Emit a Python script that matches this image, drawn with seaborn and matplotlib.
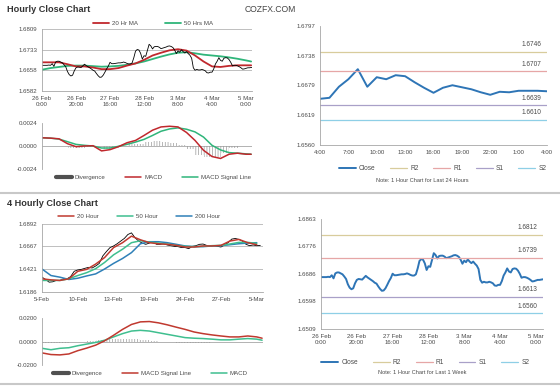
import numpy as np
import pandas as pd
import matplotlib
matplotlib.use('Agg')
import matplotlib.pyplot as plt
from matplotlib.lines import Line2D
import seaborn as sns

sns.set_style('white')
plt.rcParams['font.family'] = ['Liberation Sans', 'DejaVu Sans']
plt.rcParams['hatch.linewidth'] = 0.5

# ---------------- data: hourly (last week) ----------------
h_close = [1.6676, 1.6676, 1.6676, 1.6676, 1.6677, 1.6676, 1.6682, 1.6672, 1.6688, 1.6691,
           1.6691, 1.6688, 1.6685, 1.6678, 1.6670, 1.6653, 1.6642, 1.6637, 1.6640, 1.6656,
           1.6667, 1.6670, 1.6669, 1.6668, 1.6674, 1.6680, 1.6675, 1.6671, 1.6667, 1.6663,
           1.6658, 1.6655, 1.6646, 1.6638, 1.6632, 1.6633, 1.6640, 1.6651, 1.6663, 1.6673,
           1.6687, 1.6682, 1.6682, 1.6683, 1.6684, 1.6685, 1.6685, 1.6686, 1.6688, 1.6686,
           1.6683, 1.6681, 1.6681, 1.6685, 1.6704, 1.6728, 1.6734, 1.6732, 1.6720, 1.6699,
           1.6711, 1.6709, 1.6731, 1.6753, 1.6747, 1.6736, 1.6744, 1.6745, 1.6745, 1.6742,
           1.6737, 1.6739, 1.6741, 1.6743, 1.6746, 1.6747, 1.6745, 1.6741, 1.6732, 1.6719,
           1.6729, 1.6724, 1.6733, 1.6726, 1.6721, 1.6726, 1.6719, 1.6713, 1.6702, 1.6667,
           1.6658, 1.6661, 1.6659, 1.6659, 1.6661, 1.6659, 1.6656, 1.6649, 1.6648, 1.6651,
           1.6651, 1.6663, 1.6681, 1.6691, 1.6704, 1.6694, 1.6691, 1.6702, 1.6704, 1.6703,
           1.6697, 1.6687, 1.6674, 1.6676, 1.6676, 1.6674, 1.6671, 1.6667, 1.6662, 1.6663,
           1.6665, 1.6667, 1.6667, 1.6668, 1.6669]
h_ma_pos = [0, 5, 10, 15, 20, 25, 30, 35, 40, 45, 50, 55, 60, 65, 70, 75, 80, 85, 90, 95,
            100, 105, 110, 115, 120, 123]
h_ma20 = [1.6687, 1.6687, 1.6687, 1.6680, 1.6672, 1.6672, 1.6668, 1.6662, 1.6662, 1.6666,
          1.6675, 1.6683, 1.6696, 1.6712, 1.6722, 1.6731, 1.6735, 1.6730, 1.6712, 1.6690,
          1.6672, 1.6670, 1.6674, 1.6676, 1.6676, 1.6676]
h_ma50 = [1.6660, 1.6666, 1.6670, 1.6674, 1.6675, 1.6675, 1.6673, 1.6671, 1.6672, 1.6674,
          1.6678, 1.6683, 1.6690, 1.6699, 1.6708, 1.6716, 1.6722, 1.6724, 1.6720, 1.6715,
          1.6712, 1.6709, 1.6705, 1.6700, 1.6694, 1.6690]
h_macd = [0.00086, 0.00082, 0.00075, 0.00024, -0.00007, 0.00000, 0.00003, -0.00051, -0.00038,
          -0.00007, 0.00034, 0.00058, 0.00110, 0.00165, 0.00199, 0.00206, 0.00199, 0.00141,
          0.00058, -0.00045, -0.00110, -0.00130, -0.00086, -0.00075, -0.00086, -0.00086]
h_signal = [0.00086, 0.00082, 0.00072, 0.00045, 0.00017, 0.00007, 0.00000, -0.00021, -0.00021,
            -0.00003, 0.00017, 0.00041, 0.00069, 0.00110, 0.00154, 0.00178, 0.00189, 0.00175,
            0.00147, 0.00093, 0.00007, -0.00041, -0.00069, -0.00075, -0.00082, -0.00086]
h_div = [0.0, 0.0, 0.00003, -0.00020, -0.00024, -0.00007, 0.0, -0.00030, -0.00017, -0.00004,
         0.00017, 0.00017, 0.00040, 0.00055, 0.00045, 0.00028, 0.00010, -0.00034, -0.00089,
         -0.00110, -0.00117, -0.00070, -0.00017, 0.0, -0.00004]
h_labels = ['26 Feb\n0:00', '26 Feb\n20:00', '27 Feb\n16:00', '28 Feb\n12:00',
            '3 Mar\n8:00', '4 Mar\n4:00', '5 Mar\n0:00']
h_yticks_tl = ['1.6582', '1.6658', '1.6733', '1.6809']
h_yticks_br = ['1.6509', '1.6598', '1.6686', '1.6776', '1.6863']
week_levels = [1.6812, 1.6739, 1.6613, 1.6560]   # R2, R1, S1, S2

# ---------------- data: last 24 hours ----------------
d_labels = ['4:00', '7:00', '10:00', '13:00', '16:00', '19:00', '22:00', '1:00', '4:00']
d_close = [1.6652, 1.6654, 1.6676, 1.6691, 1.6711, 1.6676, 1.6695, 1.6691, 1.6699, 1.6697,
           1.6685, 1.6674, 1.6664, 1.6674, 1.6679, 1.6675, 1.6671, 1.6665, 1.6660, 1.6666,
           1.6665, 1.6668, 1.6668, 1.6668, 1.6667]
d_yticks = ['1.6560', '1.6619', '1.6679', '1.6738', '1.6797']
day_levels = [1.6746, 1.6707, 1.6639, 1.6610]    # R2, R1, S1, S2
level_names = ['R2', 'R1', 'S1', 'S2']

# ---------------- data: 4 hourly ----------------
f_close = [1.6340, 1.6316, 1.6288, 1.6292, 1.6306, 1.6306, 1.6323, 1.6323, 1.6346, 1.6401,
           1.6415, 1.6421, 1.6432, 1.6442, 1.6435, 1.6456, 1.6483, 1.6561, 1.6606, 1.6647,
           1.6664, 1.6687, 1.6715, 1.6742, 1.6783, 1.6800, 1.6749, 1.6715, 1.6694, 1.6681,
           1.6694, 1.6708, 1.6681, 1.6681, 1.6687, 1.6674, 1.6667, 1.6660, 1.6657, 1.6647,
           1.6647, 1.6636, 1.6660, 1.6667, 1.6681, 1.6684, 1.6670, 1.6664, 1.6667, 1.6660,
           1.6653, 1.6674, 1.6698, 1.6735, 1.6742, 1.6732, 1.6715, 1.6681, 1.6667, 1.6674,
           1.6667, 1.6670]
f_close_pos = list(range(0, 124, 2))
f_ma_pos = [0, 5, 10, 15, 20, 25, 30, 35, 40, 45, 50, 55, 60, 65, 70, 75, 80, 85, 90, 95,
            100, 105, 110, 115, 120]
f_ma20 = [1.6323, 1.6312, 1.6306, 1.6323, 1.6401, 1.6421, 1.6476, 1.6544, 1.6647, 1.6698,
          1.6766, 1.6728, 1.6698, 1.6687, 1.6681, 1.6670, 1.6653, 1.6653, 1.6664, 1.6664,
          1.6670, 1.6715, 1.6732, 1.6698, 1.6677]
f_ma50 = [1.6306, 1.6306, 1.6306, 1.6323, 1.6357, 1.6387, 1.6428, 1.6493, 1.6572, 1.6630,
          1.6698, 1.6718, 1.6704, 1.6694, 1.6684, 1.6670, 1.6660, 1.6657, 1.6660, 1.6667,
          1.6670, 1.6684, 1.6701, 1.6701, 1.6691]
f_ma200 = [1.6425, 1.6357, 1.6340, 1.6316, 1.6329, 1.6353, 1.6374, 1.6425, 1.6483, 1.6534,
           1.6595, 1.6687, 1.6708, 1.6708, 1.6698, 1.6681, 1.6664, 1.6657, 1.6657, 1.6664,
           1.6667, 1.6677, 1.6687, 1.6694, 1.6698]
f_macd_pos = f_ma_pos + [123]
f_signal = [-0.0097, -0.0111, -0.0114, -0.0106, -0.0078, -0.0056, -0.0031, 0.0006, 0.0053,
            0.0103, 0.0145, 0.0167, 0.0170, 0.0159, 0.0142, 0.0122, 0.0103, 0.0081, 0.0067,
            0.0056, 0.0047, 0.0039, 0.0039, 0.0047, 0.0039, 0.0028]
f_macd = [-0.0058, -0.0070, -0.0058, -0.0053, -0.0036, -0.0022, -0.0008, 0.0011, 0.0039,
          0.0067, 0.0089, 0.0095, 0.0089, 0.0075, 0.0061, 0.0047, 0.0033, 0.0028, 0.0025,
          0.0020, 0.0014, 0.0014, 0.0020, 0.0025, 0.0020, 0.0011]
f_div = [-0.0010, -0.0012, -0.0010, -0.0008, -0.0003, 0.0003, 0.0010, 0.0020, 0.0025, 0.0025,
         0.0020, 0.0015, 0.0005, -0.0003, -0.0008, -0.0010, -0.0012, -0.0012, -0.0010,
         -0.0008, -0.0006, -0.0005, -0.0004, -0.0004, -0.0003]
f_labels = ['5-Feb', '10-Feb', '13-Feb', '19-Feb', '24-Feb', '27-Feb', '5-Mar']
f_yticks = ['1.6186', '1.6421', '1.6667', '1.6892']

# ---------------- styling ----------------
W, H = 560, 386
TXT = '#4a4a4a'
AXC = '#a6a6a6'
FS = 4.4
RED = '#c0282d'
GRN = '#2fb57a'
BLUE = '#2e75b6'
LV_COLORS = ['#d8cc9c', '#e6a6a6', '#a9a0c8', '#8ecfe6']

fig = plt.figure(figsize=(5.6, 3.86), dpi=100, facecolor='white')


def box(x0, y0, x1, y1):
    return [x0 / W, 1 - y1 / H, (x1 - x0) / W, (y1 - y0) / H]


def style(ax, grid=False):
    for s in ['top', 'right']:
        ax.spines[s].set_visible(False)
    for s in ['left', 'bottom']:
        ax.spines[s].set_color(AXC)
        ax.spines[s].set_linewidth(0.6)
    ax.tick_params(axis='both', labelsize=FS, labelcolor=TXT, color=AXC,
                   length=2, width=0.5, pad=1.5)
    if grid:
        ax.yaxis.grid(True, color='#b4b4b4', lw=0.6)
        ax.set_axisbelow(True)
    ax.set_xlabel('')
    ax.set_ylabel('')


def float_ticks(labels):
    return [float(t) for t in labels]


# ---- Panel A: hourly close with MAs ----
axA = fig.add_axes(box(42, 29, 252, 91))
sns.lineplot(x=h_ma_pos, y=h_ma50, ax=axA, color=GRN, linewidth=1.3, label='50 Hrs MA')
sns.lineplot(x=h_ma_pos, y=h_ma20, ax=axA, color=RED, linewidth=1.3, label='20 Hr MA')
sns.lineplot(x=list(range(len(h_close))), y=h_close, ax=axA, color='black', linewidth=0.6)
axA.set_xlim(0, 123.5)
axA.set_ylim(1.6582, 1.6809)
axA.set_yticks(float_ticks(h_yticks_tl), h_yticks_tl)
axA.set_xticks(list(range(0, 121, 20)), h_labels)
style(axA, grid=True)
hA, lA = axA.get_legend_handles_labels()
axA.legend([hA[1], hA[0]], [lA[1], lA[0]], ncol=2, loc='lower center',
           bbox_to_anchor=(0.53, 1.0), frameon=False, fontsize=FS, handlelength=2.6,
           columnspacing=4.5, handletextpad=0.5, borderaxespad=0.1, labelcolor=TXT)

# ---- Panel B: hourly MACD ----
axB = fig.add_axes(box(42, 123, 252, 169))
axB.bar(h_ma_pos[:-1], h_div, width=5, color='none', edgecolor='#9a9a9a',
        hatch='||||||', linewidth=0, align='edge')
sns.lineplot(x=h_ma_pos, y=h_signal, ax=axB, color=GRN, linewidth=1.1)
sns.lineplot(x=h_ma_pos, y=h_macd, ax=axB, color=RED, linewidth=1.1)
axB.axhline(0, color=AXC, lw=0.6, zorder=0)
axB.set_xlim(0, 123.5)
axB.set_ylim(-0.0024, 0.0024)
axB.set_yticks([-0.0024, 0.0, 0.0024], ['-0.0024', '0.0000', '0.0024'])
axB.set_xticks([])
style(axB)
axB.spines['bottom'].set_visible(False)
axB.legend([Line2D([], [], color='#505050', lw=3), Line2D([], [], color=RED, lw=1.1),
            Line2D([], [], color=GRN, lw=1.1)],
           ['Divergence', 'MACD', 'MACD Signal Line'], ncol=3, loc='upper center',
           bbox_to_anchor=(0.53, -0.08), frameon=False, fontsize=FS, handlelength=2.6,
           columnspacing=3.2, handletextpad=0.5, borderaxespad=0, labelcolor=TXT)

# ---- Panel C: last 24 hours ----
axC = fig.add_axes(box(320, 26, 547, 145))
sns.lineplot(x=list(range(len(d_close))), y=d_close, ax=axC, color=BLUE, linewidth=1.4,
             label='Close')
for name, lv, col in zip(level_names, day_levels, LV_COLORS):
    axC.axhline(lv, color=col, lw=0.9, label=name)
    axC.annotate(f'{lv:.4f}', xy=(22.4, lv), xytext=(0, 2.5), textcoords='offset points',
                 ha='center', va='bottom', fontsize=FS + 0.3, color=TXT)
axC.set_xlim(0, 24)
axC.set_ylim(1.6560, 1.6797)
axC.set_yticks(float_ticks(d_yticks), d_yticks)
axC.set_xticks(list(range(0, 25, 3)), d_labels)
style(axC)
axC.legend(ncol=5, loc='upper center', bbox_to_anchor=(0.54, -0.15), frameon=False,
           fontsize=FS + 0.3, handlelength=2.6, columnspacing=2.2, handletextpad=0.5,
           borderaxespad=0, labelcolor=TXT)
fig.text(422 / W, 1 - 180 / H, 'Note: 1 Hour Chart for Last 24 Hours', ha='center',
         va='center', fontsize=FS - 0.3, color=TXT)

# ---- Panel D: 4 hourly close with MAs ----
axD = fig.add_axes(box(42, 224, 263, 292))
sns.lineplot(x=f_close_pos, y=f_close, ax=axD, color='black', linewidth=0.6)
sns.lineplot(x=f_ma_pos, y=f_ma200, ax=axD, color='#2f80b8', linewidth=1.1, label='200 Hour')
sns.lineplot(x=f_ma_pos, y=f_ma50, ax=axD, color='#3fbf8f', linewidth=1.1, label='50 Hour')
sns.lineplot(x=f_ma_pos, y=f_ma20, ax=axD, color='#c0392f', linewidth=1.1, label='20 Hour')
axD.set_xlim(0, 123.5)
axD.set_ylim(1.6186, 1.6892)
axD.set_yticks(float_ticks(f_yticks), f_yticks)
axD.set_xticks(list(range(0, 121, 20)), f_labels)
style(axD, grid=True)
hD, lD = axD.get_legend_handles_labels()
axD.legend(hD[::-1], lD[::-1], ncol=3, loc='lower center', bbox_to_anchor=(0.44, 1.04),
           frameon=False, fontsize=FS, handlelength=2.6, columnspacing=3.0,
           handletextpad=0.5, borderaxespad=0, labelcolor=TXT)

# ---- Panel E: 4 hourly MACD ----
axE = fig.add_axes(box(42, 318, 263, 365))
axE.bar(f_ma_pos, f_div, width=5, color='none', edgecolor='#9a9a9a', hatch='||||||',
        linewidth=0, align='edge')
sns.lineplot(x=f_macd_pos, y=f_macd, ax=axE, color='#3fbf8f', linewidth=1.1)
sns.lineplot(x=f_macd_pos, y=f_signal, ax=axE, color='#c0392f', linewidth=1.1)
axE.axhline(0, color=AXC, lw=0.6, zorder=0)
axE.set_xlim(0, 123.5)
axE.set_ylim(-0.02, 0.02)
axE.set_yticks([-0.02, 0.0, 0.02], ['-0.0200', '0.0000', '0.0200'])
axE.set_xticks([])
style(axE)
axE.spines['bottom'].set_visible(False)
axE.legend([Line2D([], [], color='#505050', lw=3), Line2D([], [], color='#c0392f', lw=1.1),
            Line2D([], [], color='#3fbf8f', lw=1.1)],
           ['Divergence', 'MACD Signal Line', 'MACD'], ncol=3, loc='upper center',
           bbox_to_anchor=(0.49, -0.08), frameon=False, fontsize=FS, handlelength=2.6,
           columnspacing=3.2, handletextpad=0.5, borderaxespad=0, labelcolor=TXT)

# ---- Panel F: hourly last week ----
axF = fig.add_axes(box(321, 219, 543, 329))
sns.lineplot(x=list(range(len(h_close))), y=h_close, ax=axF, color=BLUE, linewidth=1.4,
             label='Close')
for name, lv, col in zip(level_names, week_levels, LV_COLORS):
    axF.axhline(lv, color=col, lw=0.9, label=name)
    axF.annotate(f'{lv:.4f}', xy=(115.5, lv), xytext=(0, 2.5), textcoords='offset points',
                 ha='center', va='bottom', fontsize=FS + 0.3, color=TXT)
axF.set_xlim(0, 124)
axF.set_ylim(1.6509, 1.6863)
axF.set_yticks(float_ticks(h_yticks_br), h_yticks_br)
axF.set_xticks(list(range(0, 121, 20)), h_labels)
style(axF)
axF.legend(ncol=5, loc='upper center', bbox_to_anchor=(0.47, -0.25), frameon=False,
           fontsize=FS + 0.3, handlelength=2.6, columnspacing=2.2, handletextpad=0.5,
           borderaxespad=0, labelcolor=TXT)
fig.text(422 / W, 1 - 372 / H, 'Note: 1 Hour Chart for Last 1 Week', ha='center',
         va='center', fontsize=FS - 0.3, color=TXT)

# ---- titles and separators ----
fig.text(7 / W, 1 - 10 / H, 'Hourly Close Chart', fontsize=6.6, fontweight='bold',
         color='#333333', va='center', ha='left')
fig.text(7 / W, 1 - 203 / H, '4 Hourly Close Chart', fontsize=6.6, fontweight='bold',
         color='#333333', va='center', ha='left')
fig.text(245 / W, 1 - 10 / H, 'COZFX.COM', fontsize=6.2, color='#454545',
         va='center', ha='left')
for yy in [193, 384]:
    fig.add_artist(Line2D([0, 1], [1 - yy / H, 1 - yy / H], color='#c8c8c8', lw=1.5,
                          transform=fig.transFigure))

fig.savefig('out.png', dpi=100, facecolor='white')
